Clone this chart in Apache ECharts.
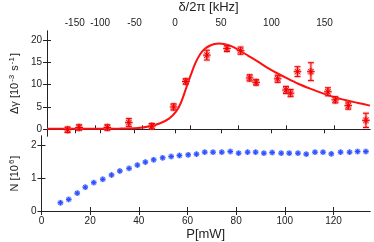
<!DOCTYPE html>
<html><head><meta charset="utf-8">
<script src="https://cdn.jsdelivr.net/npm/echarts@6/dist/echarts.min.js"></script>
<style>html,body{margin:0;padding:0;background:#fff}#c{width:374px;height:242px}</style>
</head><body><div id="c"></div>
<script>
// ---- data ----
const powerTop = [8.6, 13.4, 25.2, 34.2, 43.8, 52.9, 58.0, 66.8, 75.2, 80.9, 84.7, 87.4, 96.4, 99.9, 101.8, 104.7, 110.3, 117.4, 120.5, 125.9, 133.3];
const gammaVals = [-0.1, 0.4, 0.4, 1.5, 0.7, 5.0, 10.7, 16.6, 18.1, 17.6, 11.5, 10.5, 11.3, 8.8, 8.1, 12.9, 12.9, 8.4, 6.6, 5.3, 2.0];
const gammaErr = [0.6, 0.6, 0.6, 0.9, 0.6, 0.7, 0.6, 1.1, 0.7, 0.8, 0.7, 0.6, 0.8, 0.8, 0.8, 1.1, 2.0, 0.9, 0.7, 0.8, 1.6];
const fitP = [0, 10, 20, 30, 38, 43, 47, 51, 54, 56, 58, 60, 62, 64, 66, 68, 70, 72, 74, 77, 80, 84, 88, 92, 96, 100, 105, 110, 115, 120, 125, 130, 135];
const fitGamma = [0.1, 0.1, 0.1, 0.15, 0.3, 0.7, 1.3, 2.4, 4.0, 6.0, 9.0, 12.0, 14.8, 16.8, 18.0, 18.7, 19.1, 19.2, 19.1, 18.6, 17.8, 16.5, 15.2, 13.8, 12.6, 11.5, 10.2, 9.1, 8.1, 7.2, 6.5, 5.9, 5.3];
const powerN = [7.8, 11.2, 14.7, 18.0, 21.5, 25.2, 28.8, 32.2, 36.0, 39.4, 42.7, 46.1, 49.8, 53.3, 56.7, 60.3, 63.7, 67.1, 70.5, 74.1, 77.6, 81.0, 84.7, 88.0, 91.4, 94.8, 98.5, 101.8, 105.4, 108.8, 112.4, 115.7, 119.1, 122.9, 126.6, 129.9, 133.3];
const atomN = [0.25, 0.35, 0.54, 0.72, 0.86, 0.96, 1.09, 1.21, 1.29, 1.39, 1.48, 1.55, 1.61, 1.65, 1.68, 1.70, 1.72, 1.78, 1.78, 1.78, 1.80, 1.75, 1.78, 1.78, 1.75, 1.77, 1.75, 1.75, 1.75, 1.72, 1.78, 1.78, 1.73, 1.78, 1.78, 1.80, 1.80];
const detuningTicks = [-150, -100, -50, 0, 50, 100, 150];
const detuningTickP = [11.6, 22.2, 36.6, 53.5, 72.7, 93.8, 116.0];
const powerTicks = [0, 20, 40, 60, 80, 100, 120];
const gammaTicks = [0, 5, 10, 15, 20];
const nTicks = [0, 1, 2];

const chart = echarts.init(document.getElementById('c'));
const FONT = 'Liberation Sans, Arial, sans-serif';
const AX = '#222';
const lineStyle = {color: AX, width: 1};

function redMark(params, api) {
  const x = api.value(0), y = api.value(1), e = api.value(2);
  const c = api.coord([x, y]), t = api.coord([x, y + e]), b = api.coord([x, y - e]);
  const r = 3.8, d = 2.7, cap = 3;
  const segs = [
    [t[0], t[1], b[0], b[1]], [t[0] - cap, t[1], t[0] + cap, t[1]], [b[0] - cap, b[1], b[0] + cap, b[1]],
    [c[0] - r, c[1], c[0] + r, c[1]], [c[0], c[1] - r, c[0], c[1] + r],
    [c[0] - d, c[1] - d, c[0] + d, c[1] + d], [c[0] - d, c[1] + d, c[0] + d, c[1] - d]
  ];
  const children = [];
  segs.forEach(s => children.push({type: 'line', shape: {x1: s[0], y1: s[1], x2: s[2], y2: s[3]}, style: {stroke: 'rgba(255,90,90,0.35)', lineWidth: 3}}));
  segs.forEach(s => children.push({type: 'line', shape: {x1: s[0], y1: s[1], x2: s[2], y2: s[3]}, style: {stroke: '#ee0000', lineWidth: 1}}));
  return {type: 'group', children};
}
function blueMark(params, api) {
  const c = api.coord([api.value(0), api.value(1)]);
  const r = 2.8, d = 2;
  const segs = [
    [c[0] - r, c[1], c[0] + r, c[1]], [c[0], c[1] - r, c[0], c[1] + r],
    [c[0] - d, c[1] - d, c[0] + d, c[1] + d], [c[0] - d, c[1] + d, c[0] + d, c[1] - d]
  ];
  const children = [];
  segs.forEach(s => children.push({type: 'line', shape: {x1: s[0], y1: s[1], x2: s[2], y2: s[3]}, style: {stroke: 'rgba(80,110,255,0.4)', lineWidth: 2.6}}));
  segs.forEach(s => children.push({type: 'line', shape: {x1: s[0], y1: s[1], x2: s[2], y2: s[3]}, style: {stroke: '#2a4dff', lineWidth: 1}}));
  return {type: 'group', children};
}

const lab = {fontFamily: FONT, fontSize: 10, color: AX};

chart.setOption({
  animation: false,
  backgroundColor: '#fff',
  grid: [
    {left: 38, top: 30, width: 332, height: 106},
    {left: 38, top: 136, width: 332, height: 75}
  ],
  xAxis: [
    {gridIndex: 0, type: 'value', min: 0, max: 135, position: 'bottom',
     axisLine: {lineStyle}, axisTick: {inside: true, length: 4, lineStyle, customValues: powerTicks},
     axisLabel: {show: false}, splitLine: {show: false}},
    {gridIndex: 0, type: 'value', min: 0, max: 135, position: 'top',
     name: 'δ/2π [kHz]', nameLocation: 'middle', nameGap: 17,
     nameTextStyle: {fontFamily: FONT, fontSize: 13, color: AX},
     axisLine: {lineStyle}, axisTick: {inside: true, length: 4, lineStyle, customValues: detuningTickP},
     axisLabel: Object.assign({margin: 3, customValues: detuningTickP, formatter: v => {
       let bi = 0; detuningTickP.forEach((p, i) => { if (Math.abs(p - v) < Math.abs(detuningTickP[bi] - v)) bi = i; });
       return String(detuningTicks[bi]);
     }}, lab), splitLine: {show: false}},
    {gridIndex: 1, type: 'value', min: 0, max: 135, position: 'bottom',
     name: 'P[mW]', nameLocation: 'middle', nameGap: 17,
     nameTextStyle: {fontFamily: FONT, fontSize: 13, color: AX},
     axisLine: {lineStyle}, axisTick: {inside: true, length: 4, lineStyle, customValues: powerTicks},
     axisLabel: Object.assign({margin: 5, customValues: powerTicks}, lab), splitLine: {show: false}},
    {gridIndex: 1, type: 'value', min: 0, max: 135, position: 'top',
     axisLine: {lineStyle}, axisTick: {inside: true, length: 4, lineStyle, customValues: powerTicks},
     axisLabel: {show: false}, splitLine: {show: false}}
  ],
  yAxis: [
    {gridIndex: 0, type: 'value', min: -1.5, max: 22, position: 'left',
     name: '{a|Δγ [10}{s|-3}{a| s}{s|-1}{a|]}', nameLocation: 'middle', nameGap: 20, nameRotate: 90,
     nameTextStyle: {rich: {a: {fontFamily: FONT, fontSize: 11, color: AX}, s: {fontFamily: FONT, fontSize: 8, color: AX, verticalAlign: 'top', padding: [0, 1, 5, 1]}}},
     axisLine: {lineStyle}, axisTick: {inside: true, length: 4, lineStyle, customValues: gammaTicks},
     axisLabel: Object.assign({margin: 5, customValues: gammaTicks}, lab), splitLine: {show: false}},
    {gridIndex: 0, type: 'value', min: -1.5, max: 22, position: 'right',
     axisLine: {lineStyle}, axisTick: {inside: true, length: 4, lineStyle, customValues: gammaTicks},
     axisLabel: {show: false}, splitLine: {show: false}},
    {gridIndex: 1, type: 'value', min: 0, max: 2.27, position: 'left',
     name: '{a|N [10}{s|6}{a|]}', nameLocation: 'middle', nameGap: 20, nameRotate: 90,
     nameTextStyle: {rich: {a: {fontFamily: FONT, fontSize: 11, color: AX}, s: {fontFamily: FONT, fontSize: 8, color: AX, verticalAlign: 'top', padding: [0, 1, 5, 1]}}},
     axisLine: {lineStyle}, axisTick: {inside: true, length: 4, lineStyle, customValues: nTicks},
     axisLabel: Object.assign({margin: 5, customValues: nTicks}, lab), splitLine: {show: false}},
    {gridIndex: 1, type: 'value', min: 0, max: 2.27, position: 'right',
     axisLine: {lineStyle}, axisTick: {inside: true, length: 4, lineStyle, customValues: nTicks},
     axisLabel: {show: false}, splitLine: {show: false}}
  ],
  series: [
    {type: 'line', xAxisIndex: 0, yAxisIndex: 0, smooth: 0.3, showSymbol: false, clip: true,
     lineStyle: {color: '#ff1010', width: 2}, data: fitP.map((p, i) => [p, fitGamma[i]]), z: 3},
    {type: 'custom', xAxisIndex: 0, yAxisIndex: 0, renderItem: redMark, clip: false,
     data: powerTop.map((p, i) => [p, gammaVals[i], gammaErr[i]]), z: 4},
    {type: 'custom', xAxisIndex: 2, yAxisIndex: 2, renderItem: blueMark, clip: false,
     data: powerN.map((p, i) => [p, atomN[i]]), z: 4}
  ]
});
</script></body></html>
